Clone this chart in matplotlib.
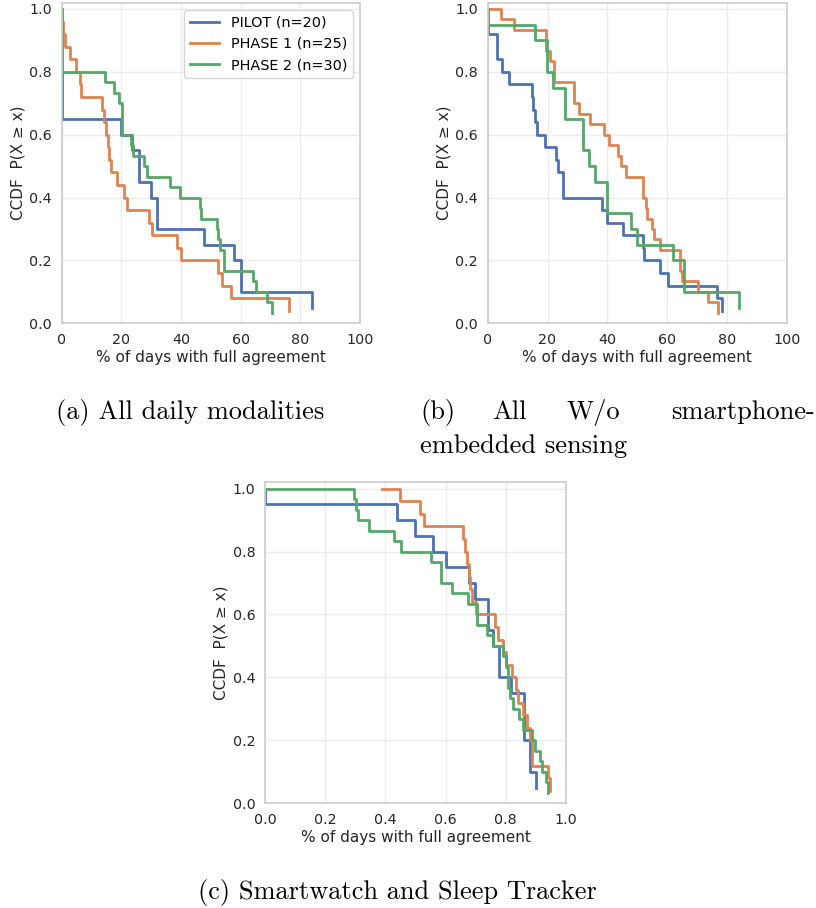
import numpy as np
import matplotlib
matplotlib.use("Agg")
import matplotlib.pyplot as plt

# sorted per-participant values (% of days with full agreement)
a_pilot = [0, 0, 0, 0, 0, 0, 0, 0, 20.0, 23.7, 25.8, 25.8, 30.0, 31.8, 31.8,
           47.8, 57.9, 60.0, 60.0, 84.0]
a_phase1 = [0, 0, 0.4, 1.0, 2.9, 4.9, 6.0, 6.6, 13.5, 14.1, 14.9, 15.4, 16.0,
            16.4, 18.4, 20.9, 21.9, 29.3, 30.2, 38.7, 39.9, 52.4, 53.9, 56.6, 76.1]
a_phase2 = [0, 0, 0, 0, 0, 0, 0, 14.4, 17.7, 19.3, 20.2, 20.2, 20.2, 23.3, 23.8,
            27.5, 28.5, 36.3, 39.5, 46.2, 46.8, 52.0, 52.5, 53.1, 54.4, 54.4,
            64.0, 65.1, 68.7, 70.4]

b_blue = [0, 0, 0, 3.0, 3.0, 4.7, 7.2, 14.7, 15.3, 15.8, 16.4, 19.0, 22.9, 23.4,
          25.3, 25.3, 38.1, 39.8, 45.4, 51.9, 52.4, 57.6, 60.4, 76.6, 78.3]
b_orange = [0, 4.5, 8.9, 19.6, 19.6, 20.7, 22.3, 22.3, 29.0, 29.0, 30.7, 34.1,
            39.0, 40.7, 43.7, 44.6, 46.4, 52.1, 52.1, 52.8, 53.3, 54.8, 55.7,
            57.6, 64.3, 64.3, 65.1, 70.2, 73.8, 76.9]
b_green = [0, 0, 15.9, 19.8, 19.8, 21.9, 25.8, 25.8, 31.8, 31.8, 33.8, 36.0,
           39.9, 39.9, 47.8, 49.8, 61.9, 65.8, 65.8, 84.1]

c_pilot = [0, 0, 0.437, 0.498, 0.559, 0.600, 0.679, 0.698, 0.740, 0.740, 0.757,
           0.779, 0.779, 0.816, 0.860, 0.860, 0.860, 0.879, 0.879, 0.899]
c_phase1 = [0.388, 0.449, 0.515, 0.528, 0.659, 0.666, 0.672, 0.678, 0.680, 0.687,
            0.702, 0.764, 0.775, 0.792, 0.801, 0.819, 0.834, 0.842, 0.858, 0.869,
            0.880, 0.888, 0.888, 0.940, 0.948]
c_phase2 = [0, 0.296, 0.302, 0.308, 0.347, 0.430, 0.452, 0.553, 0.586, 0.586,
            0.620, 0.676, 0.703, 0.703, 0.736, 0.758, 0.792, 0.800, 0.806, 0.806,
            0.814, 0.825, 0.843, 0.858, 0.887, 0.896, 0.915, 0.921, 0.933, 0.939]

labels = ["PILOT (n=20)", "PHASE 1 (n=25)", "PHASE 2 (n=30)"]
colors = ["#4C72B0", "#DD8452", "#55A868"]

W, H = 816, 908
fig = plt.figure(figsize=(W / 100, H / 100), dpi=100)


def px_axes(left, top, right, bottom):
    return fig.add_axes([left / W, 1 - bottom / H, (right - left) / W, (bottom - top) / H])


def ccdf(ax, vals, color, label=None):
    x = np.sort(np.asarray(vals, dtype=float))
    n = len(x)
    y = (n - np.arange(n)) / n
    ax.step(x, y, where="post", color=color, lw=2.0, label=label)


def style(ax, xmax, xticks):
    ax.set_xlim(0, xmax)
    ax.set_ylim(0, 1.02)
    ax.set_xticks(xticks)
    ax.set_yticks([0, 0.2, 0.4, 0.6, 0.8, 1.0])
    ax.set_yticklabels(["0.0", "0.2", "0.4", "0.6", "0.8", "1.0"])
    ax.grid(True, color="#ebebeb", lw=1)
    ax.set_axisbelow(True)
    for s in ax.spines.values():
        s.set_color("#cccccc")
        s.set_linewidth(1.2)
    ax.tick_params(length=0, pad=7, labelsize=10.3, colors="#262626")
    ax.set_xlabel("% of days with full agreement", fontsize=11, color="#262626", labelpad=2)
    ax.set_ylabel("CCDF  P(X \u2265 x)", fontsize=11, color="#262626", labelpad=3)


ax1 = px_axes(61.7, 2.7, 360, 323.3)
for v, c, l in zip([a_pilot, a_phase1, a_phase2], colors, labels):
    ccdf(ax1, v, c, l)
style(ax1, 100, [0, 20, 40, 60, 80, 100])
ax1.set_xticklabels(["0", "20", "40", "60", "80", "100"])
leg = ax1.legend(loc="upper right", fontsize=10.4, frameon=True, fancybox=True)
leg.get_frame().set_edgecolor("#cccccc")

ax2 = px_axes(487.7, 2.7, 786.7, 323.3)
for v, c in zip([b_blue, b_orange, b_green], colors):
    ccdf(ax2, v, c)
style(ax2, 100, [0, 20, 40, 60, 80, 100])
ax2.set_xticklabels(["0", "20", "40", "60", "80", "100"])

ax3 = px_axes(265, 482.3, 566, 803.3)
for v, c in zip([c_pilot, c_phase1, c_phase2], colors):
    ccdf(ax3, v, c)
style(ax3, 1.0, [0, 0.2, 0.4, 0.6, 0.8, 1.0])
ax3.set_xticklabels(["0.0", "0.2", "0.4", "0.6", "0.8", "1.0"])

cap = dict(family="cmr10", fontsize=19, color="black", va="center")
fig.text(190 / W, 1 - 412 / H, "(a) All daily modalities", ha="center", **cap)
fig.text(420 / W, 1 - 412 / H, "(b)", ha="left", **cap)
fig.text(492 / W, 1 - 412 / H, "All", ha="left", **cap)
fig.text(567 / W, 1 - 412 / H, "W/o", ha="left", **cap)
fig.text(815 / W, 1 - 412 / H, "smartphone-", ha="right", **cap)
fig.text(420 / W, 1 - 446 / H, "embedded sensing", ha="left", **cap)
fig.text(397 / W, 1 - 892 / H, "(c) Smartwatch and Sleep Tracker", ha="center", **cap)

fig.savefig("out.png", dpi=100)
